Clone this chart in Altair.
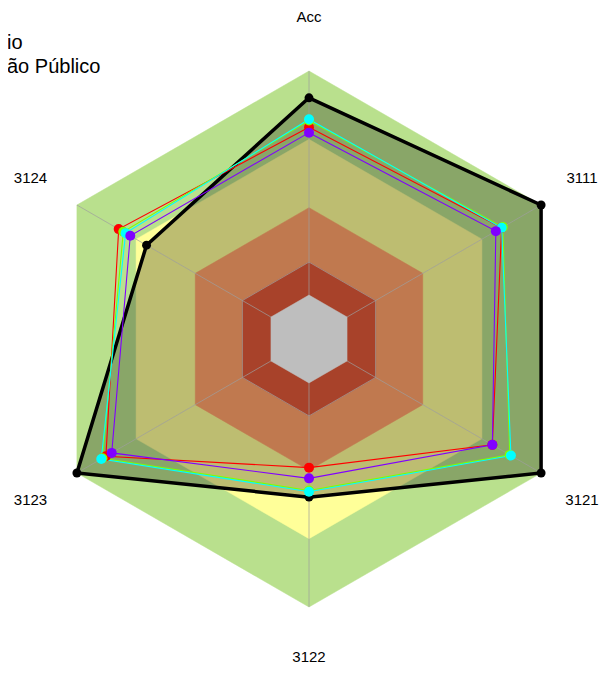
import altair as alt
import pandas as pd
import numpy as np

# ---- data ----
axes_names = ["Acc", "3111", "3121", "3122", "3123", "3124"]
angles_deg = [90, 30, -30, -90, -150, 150]

series_names = ["black", "red", "green", "cyan", "purple"]
series_colors = ["#000000", "#FF0000", "#80FF00", "#00FFFF", "#8000FF"]
black_vals = [0.90, 1.00, 1.00, 0.59, 1.00, 0.70]
red_vals = [0.79, 0.83, 0.79, 0.48, 0.875, 0.82]
green_vals = [0.815, 0.835, 0.865, 0.565, 0.89, 0.80]
cyan_vals = [0.82, 0.83, 0.87, 0.57, 0.895, 0.79]
purple_vals = [0.77, 0.805, 0.79, 0.52, 0.85, 0.77]
series_vals = [black_vals, red_vals, green_vals, cyan_vals, purple_vals]

band_radii = [1.0, 0.745, 0.49, 0.287, 0.164]
band_colors = ["#B9E08D", "#FFFF99", "#C0794F", "#A8422A", "#BEBEBE"]

legend_lines = ["io", "ão Público"]

# ---- layout ----
W, H = 593, 657
R = 268.0
cx, cy = 301.0, 331.0
xs = alt.Scale(domain=[-cx / R, (W - cx) / R], nice=False, zero=False)
ys = alt.Scale(domain=[-(H - cy) / R, cy / R], nice=False, zero=False)
ang = np.radians(angles_deg)


def poly(vals, closed=True):
    v = list(vals)
    a = list(ang)
    if closed:
        v = v + [v[0]]
        a = a + [a[0]]
    return pd.DataFrame({
        "idx": list(range(len(v))),
        "x": [r * np.cos(t) for r, t in zip(v, a)],
        "y": [r * np.sin(t) for r, t in zip(v, a)],
    })


def enc(ch):
    return ch.encode(
        x=alt.X("x:Q", scale=xs, axis=None),
        y=alt.Y("y:Q", scale=ys, axis=None),
        order=alt.Order("idx:Q"),
    )


layers = []
# outer bands (green, yellow)
for r, c in zip(band_radii[:2], band_colors[:2]):
    layers.append(enc(alt.Chart(poly([r] * 6)).mark_line(
        fill=c, fillOpacity=1, stroke=c, strokeWidth=0.5)))

# black series translucent fill
layers.append(enc(alt.Chart(poly(black_vals)).mark_line(
    fill="#000000", fillOpacity=0.26, strokeOpacity=0)))

# inner bands
for r, c in zip(band_radii[2:4], band_colors[2:4]):
    layers.append(enc(alt.Chart(poly([r] * 6)).mark_line(
        fill=c, fillOpacity=1, stroke=c, strokeWidth=0.5)))

# spokes
spokes = []
for i, t in enumerate(ang):
    spokes.append({"k": i, "idx": 0, "x": 0.0, "y": 0.0})
    spokes.append({"k": i, "idx": 1, "x": np.cos(t), "y": np.sin(t)})
layers.append(alt.Chart(pd.DataFrame(spokes)).mark_line(
    color="#9E9E9E", strokeWidth=1, opacity=0.7).encode(
    x=alt.X("x:Q", scale=xs, axis=None),
    y=alt.Y("y:Q", scale=ys, axis=None),
    detail="k:N", order=alt.Order("idx:Q")))

# grid ring at dark red edge
layers.append(enc(alt.Chart(poly([band_radii[3]] * 6)).mark_line(
    color="#A0A0A0", strokeWidth=1, opacity=0.7)))

# gray centre
layers.append(enc(alt.Chart(poly([band_radii[4]] * 6)).mark_line(
    fill=band_colors[4], fillOpacity=1, stroke=band_colors[4], strokeWidth=0.5)))

# series lines and points
for name, col, vals in zip(series_names, series_colors, series_vals):
    sw = 3.5 if name == "black" else 1.1
    layers.append(enc(alt.Chart(poly(vals)).mark_line(color=col, strokeWidth=sw)))
for name, col, vals in zip(series_names, series_colors, series_vals):
    sz = 80 if name == "black" else 100
    layers.append(alt.Chart(poly(vals, closed=False)).mark_circle(
        color=col, size=sz, opacity=1).encode(
        x=alt.X("x:Q", scale=xs, axis=None),
        y=alt.Y("y:Q", scale=ys, axis=None)))

# axis labels (kept inside the drawable page area)
lx = np.clip([1.2 * np.cos(t) for t in ang], -1e9, (W - 19 - cx) / R)
ly = np.clip([1.2 * np.sin(t) for t in ang], -(H - 8 - cy) / R, 1e9)
lab = pd.DataFrame({"name": axes_names, "x": lx, "y": ly})
layers.append(alt.Chart(lab).mark_text(
    font="Liberation Sans", fontSize=15, color="#000000",
    align="center", baseline="middle").encode(
    x=alt.X("x:Q", scale=xs, axis=None),
    y=alt.Y("y:Q", scale=ys, axis=None),
    text="name:N"))

# partially visible legend text
for i, t in enumerate(legend_lines):
    layers.append(alt.Chart(pd.DataFrame({"t": [t]})).mark_text(
        font="Liberation Sans", fontSize=20, color="#000000",
        align="left", baseline="alphabetic").encode(
        x=alt.value(-1), y=alt.value(41 + 24 * i), text="t:N"))

chart = alt.layer(*layers).properties(
    width=W, height=H, padding=0,
    autosize=alt.AutoSizeParams(type="none"),
).configure_view(stroke=None)

chart.save("out.html", embed_options={"renderer": "svg", "actions": False})
